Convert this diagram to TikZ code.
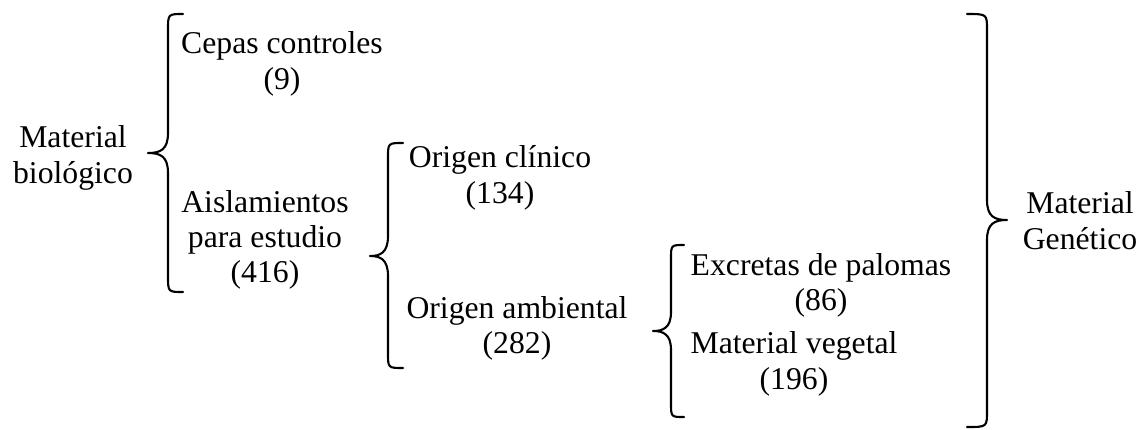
\documentclass[tikz,border=0pt]{standalone}
\usepackage{fontspec}
\setmainfont{Liberation Serif}
\begin{document}
\begin{tikzpicture}[x=1pt,y=-1pt,
  lbl/.style={anchor=base,inner sep=0pt,font=\fontsize{31.7}{36}\selectfont},
  bracestroke/.style={draw=black,line width=2.1pt,line cap=round,line join=round}]
\useasboundingbox (0,0) rectangle (1138,429);
% texts
\node[lbl] (mb1) at (73,147) {Material};
\node[lbl] (mb2) at (73,183) {biológico};
\node[lbl] (cc1) at (282,53) {Cepas controles};
\node[lbl] (cc2) at (282,89) {(9)};
\node[lbl] (ae1) at (265,212) {Aislamientos};
\node[lbl] (ae2) at (265,247) {para estudio};
\node[lbl] (ae3) at (265,282) {(416)};
\node[lbl] (oc1) at (500,167) {Origen clínico};
\node[lbl] (oc2) at (500,203) {(134)};
\node[lbl] (oa1) at (517,318) {Origen ambiental};
\node[lbl] (oa2) at (517,353) {(282)};
\node[lbl] (ep1) at (821,275) {Excretas de palomas};
\node[lbl] (ep2) at (821,310) {(86)};
\node[lbl] (mv1) at (794,353) {Material vegetal};
\node[lbl] (mv2) at (794,389) {(196)};
\node[lbl] (mg1) at (1080,213) {Material};
\node[lbl] (mg2) at (1080,249) {Genético};
% brace 1
\draw[bracestroke] (183,14) .. controls (168,14) .. (168,30) -- (168,133)
  .. controls (168,150) and (160,153) .. (148,153) .. controls (160,153) and (168,156) .. (168,173)
  -- (168,276) .. controls (168,292) .. (183,292);
% brace 2
\draw[bracestroke] (403,143) .. controls (388,143) .. (388,158) -- (388,236)
  .. controls (388,253) and (380,256) .. (370,256) .. controls (380,256) and (388,259) .. (388,276)
  -- (388,353) .. controls (388,368) .. (403,368);
% brace 3
\draw[bracestroke] (684,245) .. controls (671,245) .. (671,259) -- (671,312)
  .. controls (671,328) and (663,331) .. (653,331) .. controls (663,331) and (671,334) .. (671,350)
  -- (671,403) .. controls (671,417) .. (684,417);
% brace 4 (right)
\draw[bracestroke] (967,14) .. controls (987,14) .. (987,30) -- (987,200)
  .. controls (987,217) and (995,220) .. (1007,220) .. controls (995,220) and (987,223) .. (987,240)
  -- (987,411) .. controls (987,427) .. (967,427);
\end{tikzpicture}
\end{document}
